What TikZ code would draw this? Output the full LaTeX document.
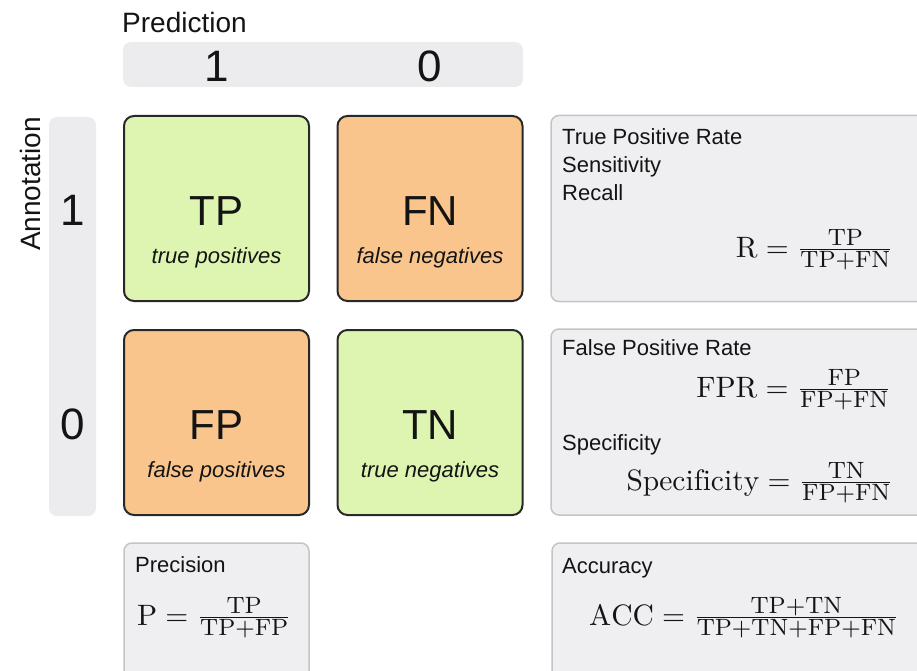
\RequirePackage{fix-cm}
\documentclass[tikz,border=0pt]{standalone}
\usepackage{fontspec}
\newfontfamily\lsans{Liberation Sans}
\DeclareMathSizes{10}{10}{8}{6}
\newcommand\fml[1]{\scalebox{2.95}{\fontsize{10}{12}\selectfont$#1$}}
\definecolor{cellgreen}{RGB}{221,245,176}
\definecolor{cellorange}{RGB}{250,197,140}
\definecolor{infogray}{RGB}{239,238,240}
\definecolor{infoline}{RGB}{196,196,198}
\definecolor{bargray}{RGB}{236,236,238}
\definecolor{ink}{RGB}{20,20,20}
\definecolor{cellline}{RGB}{40,40,40}
\begin{document}
\begin{tikzpicture}[x=1pt,y=-1pt,
  cell/.style={draw=cellline, line width=2pt, rounded corners=10pt, minimum width=185pt, minimum height=185pt, inner sep=0pt},
  infobox/.style={draw=infoline, fill=infogray, line width=1.5pt, rounded corners=8pt, inner sep=0pt},
  hdrbar/.style={fill=bargray, rounded corners=8pt, inner sep=0pt},
  lbl/.style={inner sep=0pt, text=ink, font=\lsans\fontsize{28}{34}\selectfont},
  digit/.style={inner sep=0pt, text=ink, font=\lsans\fontsize{44}{52}\selectfont},
  big/.style={inner sep=0pt, anchor=base, text=ink, font=\lsans\fontsize{42}{50}\selectfont},
  sub/.style={inner sep=0pt, anchor=base, text=ink, font=\lsans\itshape\fontsize{22}{26}\selectfont},
  info/.style={inner sep=0pt, anchor=base west, text=ink, font=\lsans\fontsize{22}{26}\selectfont},
  formula/.style={inner sep=0pt, text=ink}
]
\useasboundingbox (0,0) rectangle (917,671);
\clip (0,0) rectangle (917,671);

% header
\node[lbl, anchor=base west] (pred) at (122,33) {Prediction};
\node[hdrbar, minimum width=400pt, minimum height=45pt] (topbar) at (323,64.5) {};
\node[digit] (p1) at (217,66) {1};
\node[digit] (p0) at (430,66) {0};

\node[lbl, rotate=90] (annot) at (30,184) {Annotation};
\node[hdrbar, minimum width=47pt, minimum height=399pt] (leftbar) at (72.5,316.5) {};
\node[digit] (a1) at (73,210) {1};
\node[digit] (a0) at (73,424) {0};

% matrix cells
\node[cell, fill=cellgreen] (tp) at (216.5,208.5) {};
\node[cell, fill=cellorange] (fn) at (430,208.5) {};
\node[cell, fill=cellorange] (fp) at (216.5,422.5) {};
\node[cell, fill=cellgreen] (tn) at (430,422.5) {};

\node[big] (tpl) at (216.5,225) {TP};
\node[sub] (tps) at (216.5,263) {true positives};
\node[big] (fnl) at (430,225) {FN};
\node[sub] (fns) at (430,263) {false negatives};
\node[big] (fpl) at (216.5,439) {FP};
\node[sub] (fps) at (216.5,477) {false positives};
\node[big] (tnl) at (430,439) {TN};
\node[sub] (tns) at (430,477) {true negatives};

% info boxes
\node[infobox, minimum width=379pt, minimum height=186pt] (rbox) at (740.5,208.5) {};
\node[info] (r1) at (562,145) {True Positive Rate};
\node[info] (r2) at (562,172.5) {Sensitivity};
\node[info] (r3) at (562,200) {Recall};
\node[formula, anchor=base east] (rf) at (894,257) {\fml{\mathrm{R} = \frac{\mathrm{TP}}{\mathrm{TP+FN}}}};

\node[infobox, minimum width=379pt, minimum height=186pt] (fbox) at (740.5,422) {};
\node[info] (f1) at (562,355) {False Positive Rate};
\node[formula, anchor=base east] (ff) at (892,397) {\fml{\mathrm{FPR} = \frac{\mathrm{FP}}{\mathrm{FP+FN}}}};
\node[info] (s1) at (562,450) {Specificity};
\node[formula, anchor=base east] (sf) at (894,490) {\fml{\mathrm{Specificity} = \frac{\mathrm{TN}}{\mathrm{FP+FN}}}};

\node[infobox, minimum width=185pt, minimum height=150pt] (pbox) at (216.5,618) {};
\node[info] (p1t) at (135,572) {Precision};
\node[formula, anchor=base west] (pf) at (137,625) {\fml{\mathrm{P} = \frac{\mathrm{TP}}{\mathrm{TP+FP}}}};

\node[infobox, minimum width=378pt, minimum height=150pt] (abox) at (741,618) {};
\node[info] (a1t) at (562,573) {Accuracy};
\node[formula, anchor=base west] (af) at (589,625) {\fml{\mathrm{ACC} = \frac{\mathrm{TP+TN}}{\mathrm{TP+TN+FP+FN}}}};
\end{tikzpicture}
\end{document}
